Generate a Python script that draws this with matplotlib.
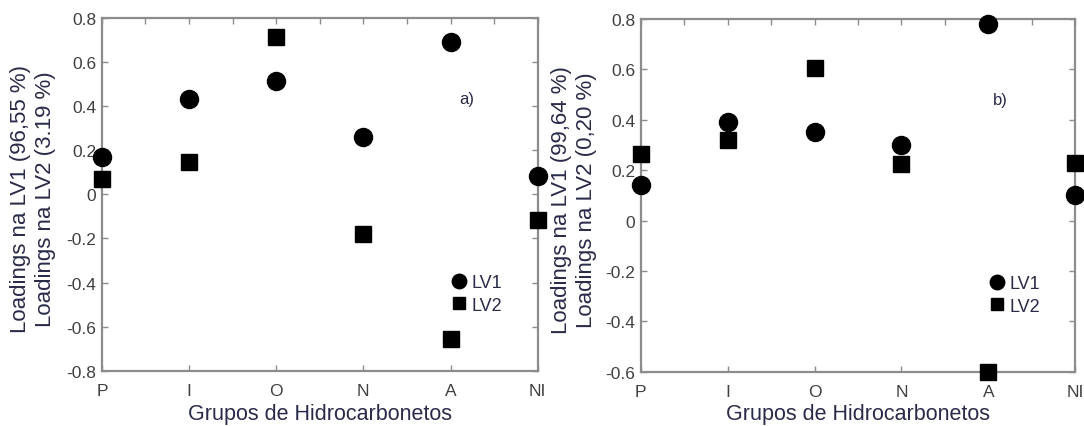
import numpy as np
import matplotlib.pyplot as plt

plt.rcParams['font.family'] = ['Liberation Sans', 'DejaVu Sans']

# categorias (grupos de hidrocarbonetos)
grupos = ['P', 'I', 'O', 'N', 'A', 'NI']

# painel a)
lv1_a = [0.17, 0.43, 0.515, 0.26, 0.69, 0.085]
lv2_a = [0.07, 0.145, 0.715, -0.18, -0.655, -0.115]
ylabel_a = 'Loadings na LV1 (96,55 %)\nLoadings na LV2 (3.19 %)'

# painel b)
lv1_b = [0.14, 0.39, 0.35, 0.30, 0.78, 0.10]
lv2_b = [0.265, 0.32, 0.605, 0.225, -0.60, 0.23]
ylabel_b = 'Loadings na LV1 (99,64 %)\nLoadings na LV2 (0,20 %)'

txt = '#2a2a4a'
tick_col = '#404040'
spine_col = '#8c8c8c'

fig = plt.figure(figsize=(10.84, 4.27), dpi=100)
ax1 = fig.add_axes([0.094, 0.129, 0.402, 0.827])
ax2 = fig.add_axes([0.591, 0.127, 0.401, 0.826])

x = np.arange(1, len(grupos) + 1)


def painel(ax, lv1, lv2, ylabel, ylim, letra, lx, ly, ylx):
    ax.plot(x, lv1, 'o', color='black', markersize=13, label='LV1', clip_on=False, zorder=3)
    ax.plot(x, lv2, 's', color='black', markersize=11, label='LV2', clip_on=False, zorder=3)
    ax.set_xlim(1, 6)
    ax.set_ylim(*ylim)
    ax.set_xticks(x)
    ax.set_xticklabels(grupos)
    ax.set_xticks(np.arange(1.5, 6, 1), minor=True)
    ax.set_yticks(np.round(np.arange(ylim[0], ylim[1] + 0.01, 0.2), 1))
    ax.yaxis.set_major_formatter(plt.FuncFormatter(lambda v, p: '0' if abs(v) < 1e-9 else f'{v:g}'))
    ax.tick_params(direction='in', top=True, right=True, length=4, width=1,
                   color=spine_col, labelcolor=tick_col, labelsize=12.5)
    ax.tick_params(axis='x', pad=9)
    ax.tick_params(axis='y', pad=4)
    ax.tick_params(which='minor', direction='in', top=True, bottom=False, length=4, width=1,
                   color=spine_col)
    for s in ax.spines.values():
        s.set_color(spine_col)
        s.set_linewidth(1.6)
    ax.set_xlabel('Grupos de Hidrocarbonetos', fontsize=15.5, color=txt, labelpad=3)
    ax.set_ylabel(ylabel, fontsize=16, color=txt, linespacing=1.25)
    ax.yaxis.set_label_coords(ylx, 0.49)
    ax.text(lx, ly, letra, transform=ax.transAxes, fontsize=12, color=txt)
    ax.legend(loc='upper left', bbox_to_anchor=(0.77, 0.32), frameon=False,
              markerscale=0.8, handlelength=0.6, handletextpad=0.4,
              labelspacing=0.3, fontsize=13, labelcolor=txt)


painel(ax1, lv1_a, lv2_a, ylabel_a, (-0.8, 0.8), 'a)', 0.82, 0.76, -0.105)
painel(ax2, lv1_b, lv2_b, ylabel_b, (-0.6, 0.8), 'b)', 0.81, 0.76, -0.101)

plt.savefig('out.png', dpi=100)
